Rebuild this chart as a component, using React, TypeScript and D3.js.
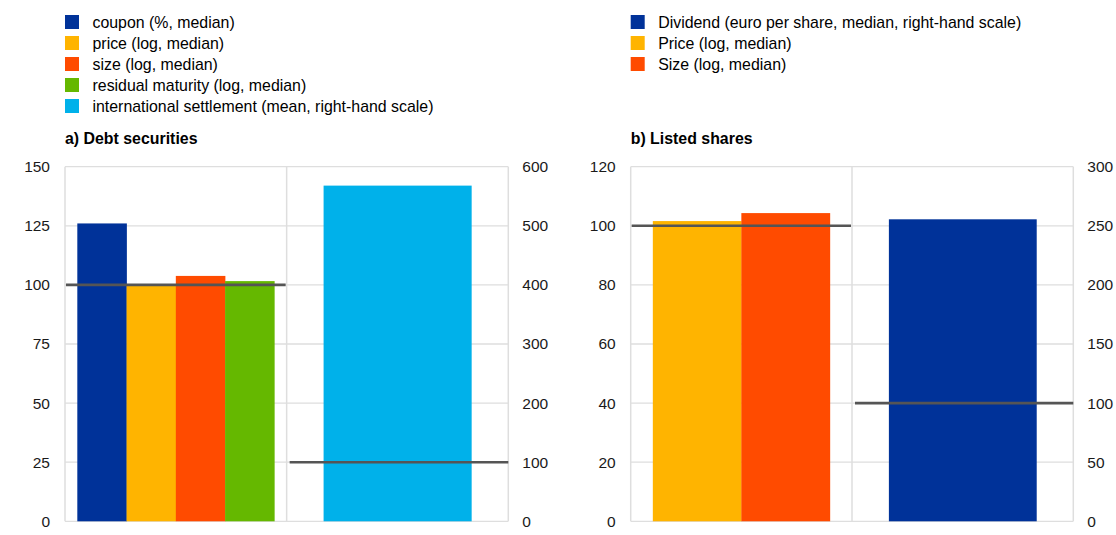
import React from "react";
import * as d3 from "d3";

// ---- Data ----
const debtLegend = [
  "coupon (%, median)",
  "price (log, median)",
  "size (log, median)",
  "residual maturity (log, median)",
  "international settlement (mean, right-hand scale)",
];
const debtColors = ["#003299", "#FFB400", "#FF4B00", "#65B800", "#00B1EA"];
const debtPrimaryValues = [126, 100, 103.8, 101.6]; // left scale
const debtSecondaryValues = [568]; // right scale
const debtLeftTicks = [0, 25, 50, 75, 100, 125, 150];
const debtRightTicks = [0, 100, 200, 300, 400, 500, 600];
const debtRefLeft = 100;
const debtRefRight = 100;

const sharesLegend = [
  "Dividend (euro per share, median, right-hand scale)",
  "Price (log, median)",
  "Size (log, median)",
];
const sharesColors = ["#003299", "#FFB400", "#FF4B00"];
const sharesPrimaryValues = [101.6, 104.3]; // Price, Size (left scale)
const sharesPrimaryColors = ["#FFB400", "#FF4B00"];
const sharesSecondaryValues = [255.5]; // Dividend (right scale)
const sharesSecondaryColors = ["#003299"];
const sharesLeftTicks = [0, 20, 40, 60, 80, 100, 120];
const sharesRightTicks = [0, 50, 100, 150, 200, 250, 300];
const sharesRefLeft = 100;
const sharesRefRight = 100;

const categories = ["primary", "secondary"];

const FONT = "'Liberation Sans', Arial, sans-serif";
const TOP = 166.7;
const BOTTOM = 521.3;
const GRID = "#dedede";
const LINE = "#555555";

type PanelProps = {
  x0: number;
  x1: number;
  title: string;
  legend: string[];
  legendColors: string[];
  primaryValues: number[];
  primaryColors: string[];
  secondaryValues: number[];
  secondaryColors: string[];
  leftTicks: number[];
  rightTicks: number[];
  refLeft: number;
  refRight: number;
};

function Panel(p: PanelProps) {
  const yL = d3
    .scaleLinear()
    .domain([0, d3.max(p.leftTicks) as number])
    .range([BOTTOM, TOP]);
  const yR = d3
    .scaleLinear()
    .domain([0, d3.max(p.rightTicks) as number])
    .range([BOTTOM, TOP]);
  const xCat = d3.scaleBand().domain(categories).range([p.x0, p.x1]).padding(0);
  const bw = xCat.bandwidth();

  // Excel-like clustering with 50% gap width
  const barsFor = (cat: string, values: number[], colors: string[], y: d3.ScaleLinear<number, number>) => {
    const n = values.length;
    const w = bw / (n + 0.5);
    const start = (xCat(cat) as number) + w * 0.25;
    return values.map((v, i) => (
      <rect
        key={cat + i}
        x={start + i * w}
        y={y(v)}
        width={w + 0.3}
        height={BOTTOM - y(v)}
        fill={colors[i]}
      />
    ));
  };

  const c0 = xCat("primary") as number;
  const c1 = xCat("secondary") as number;

  return (
    <g>
      {/* legend */}
      {p.legend.map((t, i) => (
        <g key={t} transform={`translate(${p.x0},${22 + i * 21})`}>
          <rect x={0} y={-7} width={14} height={14} fill={p.legendColors[i]} />
          <text
            x={27.5}
            y={0}
            dy="0.35em"
            fontSize={15.9}
            fontFamily={FONT}
            fill="#000"
          >
            {t}
          </text>
        </g>
      ))}
      <text
        x={p.x0}
        y={138}
        dy="0.35em"
        fontSize={15.9}
        fontWeight="bold"
        fontFamily={FONT}
        fill="#000"
      >
        {p.title}
      </text>

      {/* gridlines */}
      {p.leftTicks.map((t) => (
        <line key={"g" + t} x1={p.x0} x2={p.x1} y1={yL(t)} y2={yL(t)} stroke={GRID} strokeWidth={1.3} />
      ))}
      {[p.x0, c1, p.x1].map((x, i) => (
        <line key={"v" + i} x1={x} x2={x} y1={TOP} y2={BOTTOM} stroke={GRID} strokeWidth={1.5} />
      ))}

      {/* bars */}
      {barsFor("primary", p.primaryValues, p.primaryColors, yL)}
      {barsFor("secondary", p.secondaryValues, p.secondaryColors, yR)}

      {/* reference lines */}
      <line x1={c0 + 1} x2={c0 + bw - 1} y1={yL(p.refLeft)} y2={yL(p.refLeft)} stroke={LINE} strokeWidth={2.6} />
      <line x1={c1 + 3} x2={c1 + bw} y1={yR(p.refRight)} y2={yR(p.refRight)} stroke={LINE} strokeWidth={2.6} />

      {/* axis labels */}
      {p.leftTicks.map((t) => (
        <text
          key={"l" + t}
          x={p.x0 - 15}
          y={yL(t)}
          dy="0.35em"
          textAnchor="end"
          fontSize={15.5}
          fontFamily={FONT}
          fill="#1a1a1a"
        >
          {t}
        </text>
      ))}
      {p.rightTicks.map((t) => (
        <text
          key={"r" + t}
          x={p.x1 + 14}
          y={yR(t)}
          dy="0.35em"
          textAnchor="start"
          fontSize={15.5}
          fontFamily={FONT}
          fill="#1a1a1a"
        >
          {t}
        </text>
      ))}
    </g>
  );
}

export default function App() {
  return (
    <div style={{ position: "absolute", left: 0, top: 0 }}>
      <svg width={1116} height={535} viewBox="0 0 1116 535" style={{ display: "block", background: "#fff" }}>
        <rect width={1116} height={535} fill="#fff" />
        <Panel
          x0={65}
          x1={508.3}
          title="a) Debt securities"
          legend={debtLegend}
          legendColors={debtColors}
          primaryValues={debtPrimaryValues}
          primaryColors={debtColors.slice(0, 4)}
          secondaryValues={debtSecondaryValues}
          secondaryColors={debtColors.slice(4)}
          leftTicks={debtLeftTicks}
          rightTicks={debtRightTicks}
          refLeft={debtRefLeft}
          refRight={debtRefRight}
        />
        <Panel
          x0={630.7}
          x1={1073.3}
          title="b) Listed shares"
          legend={sharesLegend}
          legendColors={sharesColors}
          primaryValues={sharesPrimaryValues}
          primaryColors={sharesPrimaryColors}
          secondaryValues={sharesSecondaryValues}
          secondaryColors={sharesSecondaryColors}
          leftTicks={sharesLeftTicks}
          rightTicks={sharesRightTicks}
          refLeft={sharesRefLeft}
          refRight={sharesRefRight}
        />
      </svg>
    </div>
  );
}
